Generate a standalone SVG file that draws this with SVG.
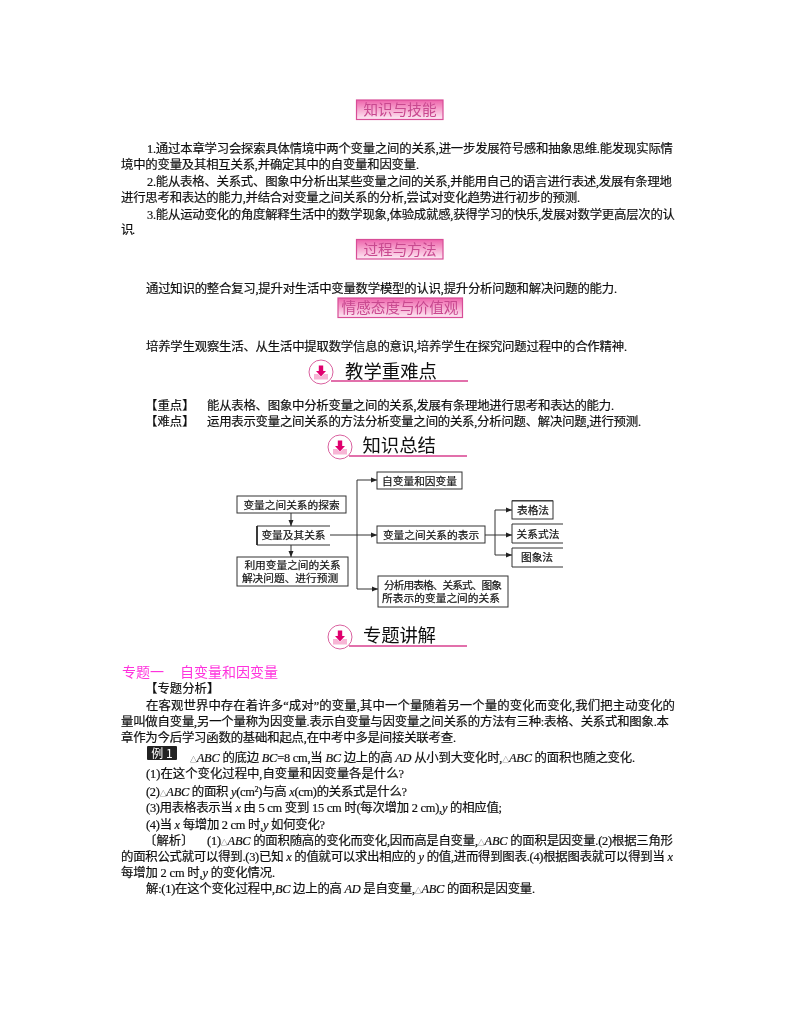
<svg xmlns="http://www.w3.org/2000/svg" width="800" height="1028" viewBox="0 0 800 1028">
<defs>
<filter id="soft" filterUnits="userSpaceOnUse" x="0" y="0" width="800" height="1028"><feGaussianBlur stdDeviation="0.35"/></filter>
<linearGradient id="pk" x1="0" y1="0" x2="0" y2="1"><stop offset="0" stop-color="#ee62ab"/><stop offset="0.5" stop-color="#f7a8d0"/><stop offset="1" stop-color="#fdeaf4"/></linearGradient>
<marker id="ah" viewBox="0 0 6 6" refX="6" refY="3" markerWidth="6" markerHeight="6" orient="auto" markerUnits="userSpaceOnUse"><path d="M0 0.5L6 3L0 5.5Z" fill="#222"/></marker>
<symbol id="ic" overflow="visible"><circle cx="0" cy="0" r="12" fill="#fff" stroke="#d9619f" stroke-width="1"/><path d="M-7 7.500L-7 2L-3 2L0 5L3 2L7 2L7 7.500Z" fill="#f7b5d5"/><path d="M-2.200 -6.500H2.200V-1H5L0 4.500L-5 -1H-2.200Z" fill="#e0006e"/></symbol>
</defs>
<style>
text{font-family:"Liberation Serif","Noto Sans CJK SC",serif;fill:#111;font-size:12.4px;stroke:#111;stroke-width:.2px}
.h{font-family:"Noto Sans CJK SC","Liberation Sans",sans-serif;font-size:18.4px;fill:#111;stroke:none}
.p{font-family:"Noto Sans CJK SC","Liberation Sans",sans-serif;font-size:14.6px;fill:#c8488f;stroke:none;text-anchor:middle}
.n{font-size:10.7px;fill:#111}
.b{fill:#fff;stroke:#333;stroke-width:1}
.c{fill:none;stroke:#333;stroke-width:1}
.a{marker-end:url(#ah)}
.pb{fill:url(#pk);stroke:#d84d97;stroke-width:1.200}
.u{stroke:#d8418f;stroke-width:1.300;fill:none}
.m{fill:#ff33dd;stroke:none;font-size:14px}
.i{font-style:italic}
.t{font-size:7px;stroke:none;fill:#444}
</style>
<g filter="url(#soft)">
<g id="badge-zhishi"><rect class="pb" x="356.500" y="100" width="86.500" height="19.500"/><text class="p" x="400" y="115">知识与技能</text></g>
<g id="badge-guocheng"><rect class="pb" x="356.500" y="239.500" width="86.500" height="19.500"/><text class="p" x="400" y="254.500">过程与方法</text></g>
<g id="badge-qinggan"><rect class="pb" x="338" y="298" width="124.500" height="19.500"/><text class="p" x="400" y="313">情感态度与价值观</text></g>
<g id="head-zhongnan"><use href="#ic" x="321" y="372"/><path class="u" d="M331 381H468"/><text class="h" x="345" y="378" textLength="92">教学重难点</text></g>
<g id="head-zongjie"><use href="#ic" x="340" y="447"/><path class="u" d="M349 456H467"/><text class="h" x="362.500" y="452" textLength="73.500">知识总结</text></g>
<g id="head-jiangjie"><use href="#ic" x="340" y="637"/><path class="u" d="M349 646H467"/><text class="h" x="363" y="642" textLength="73">专题讲解</text></g>
<g id="body-text">
<text x="147" y="152.500" textLength="526">1.通过本章学习会探索具体情境中两个变量之间的关系,进一步发展符号感和抽象思维.能发现实际情</text>
<text x="121" y="169" textLength="298">境中的变量及其相互关系,并确定其中的自变量和因变量.</text>
<text x="147" y="185.500" textLength="525">2.能从表格、关系式、图象中分析出某些变量之间的关系,并能用自己的语言进行表述,发展有条理地</text>
<text x="121" y="202" textLength="459">进行思考和表达的能力,并结合对变量之间关系的分析,尝试对变化趋势进行初步的预测.</text>
<text x="147" y="218.500" textLength="528">3.能从运动变化的角度解释生活中的数学现象,体验成就感,获得学习的快乐,发展对数学更高层次的认</text>
<text x="121" y="234" textLength="14">识.</text>
<text x="146" y="292.500" textLength="471">通过知识的整合复习,提升对生活中变量数学模型的认识,提升分析问题和解决问题的能力.</text>
<text x="146" y="350.500" textLength="481">培养学生观察生活、从生活中提取数学信息的意识,培养学生在探究问题过程中的合作精神.</text>
<text x="145" y="409.500">【重点】</text><text x="207" y="409.500" textLength="407">能从表格、图象中分析变量之间的关系,发展有条理地进行思考和表达的能力.</text>
<text x="145" y="425.500">【难点】</text><text x="207" y="425.500" textLength="434">运用表示变量之间关系的方法分析变量之间的关系,分析问题、解决问题,进行预测.</text>
<text class="m" x="122" y="676.500" textLength="42">专题一</text><text class="m" x="180" y="676.500" textLength="98">自变量和因变量</text>
<text x="145" y="693">【专题分析】</text>
<text x="146" y="709.500" textLength="529">在客观世界中存在着许多“成对”的变量,其中一个量随着另一个量的变化而变化,我们把主动变化的</text>
<text x="121" y="725.500" textLength="548">量叫做自变量,另一个量称为因变量.表示自变量与因变量之间关系的方法有三种:表格、关系式和图象.本</text>
<text x="121" y="741.500" textLength="335">章作为今后学习函数的基础和起点,在中考中多是间接关联考查.</text>
<g id="example-badge"><rect x="147" y="746" width="30" height="14" rx="1" fill="#222"/><text x="162" y="757.500" text-anchor="middle" style="fill:#fff;stroke:none;font-size:12px;font-family:'Noto Sans CJK SC',sans-serif">例 1</text></g>
<text x="190" y="761.500" textLength="445"><tspan class="t">△</tspan><tspan class="i">ABC</tspan> 的底边 <tspan class="i">BC</tspan>=8 cm,当 <tspan class="i">BC</tspan> 边上的高 <tspan class="i">AD</tspan> 从小到大变化时,<tspan class="t">△</tspan><tspan class="i">ABC</tspan> 的面积也随之变化.</text>
<text x="146" y="778" textLength="258">(1)在这个变化过程中,自变量和因变量各是什么?</text>
<text x="146" y="795.500" textLength="261">(2)<tspan class="t">△</tspan><tspan class="i">ABC</tspan> 的面积 <tspan class="i">y</tspan>(cm<tspan dy="-4" font-size="8">2</tspan><tspan dy="4">)与高 </tspan><tspan class="i">x</tspan>(cm)的关系式是什么?</text>
<text x="146" y="812" textLength="356">(3)用表格表示当 <tspan class="i">x</tspan> 由 5 cm 变到 15 cm 时(每次增加 2 cm),<tspan class="i">y</tspan> 的相应值;</text>
<text x="146" y="828.500" textLength="179">(4)当 <tspan class="i">x</tspan> 每增加 2 cm 时,<tspan class="i">y</tspan> 如何变化?</text>
<text x="144" y="844.500">〔解析〕</text><text x="207" y="844.500" textLength="466">(1)<tspan class="t">△</tspan><tspan class="i">ABC</tspan> 的面积随高的变化而变化,因而高是自变量,<tspan class="t">△</tspan><tspan class="i">ABC</tspan> 的面积是因变量.(2)根据三角形</text>
<text x="121" y="860.500" textLength="552">的面积公式就可以得到.(3)已知 <tspan class="i">x</tspan> 的值就可以求出相应的 <tspan class="i">y</tspan> 的值,进而得到图表.(4)根据图表就可以得到当 <tspan class="i">x</tspan></text>
<text x="121" y="876.500" textLength="154">每增加 2 cm 时,<tspan class="i">y</tspan> 的变化情况.</text>
<text x="146" y="893" textLength="389">解:(1)在这个变化过程中,<tspan class="i">BC</tspan> 边上的高 <tspan class="i">AD</tspan> 是自变量,<tspan class="t">△</tspan><tspan class="i">ABC</tspan> 的面积是因变量.</text>
</g>
<g id="connectors">
<path class="c a" d="M291 513V526"/>
<path class="c a" d="M291 545V557"/>
<path class="c a" d="M330 535H377"/>
<path class="c a" d="M357 480H377"/>
<path class="c a" d="M357 589H378"/>
<path class="c" d="M357 480V589"/>
<path class="c a" d="M485 535H512"/>
<path class="c a" d="M495 510H512"/>
<path class="c a" d="M495 555H512"/>
<path class="c" d="M495 510V555"/>
</g>
<g id="n-tansuo"><rect class="b" x="237" y="496" width="109" height="17"/><text class="n" x="291.500" y="508.500" text-anchor="middle">变量之间关系的探索</text></g>
<g id="n-bianliang"><path class="c" d="M330 526H257V545H330"/><path d="M257 526V545" stroke="#222" stroke-width="1.600"/><text class="n" x="293.500" y="539" text-anchor="middle">变量及其关系</text></g>
<g id="n-liyong"><rect class="b" x="237" y="557" width="111" height="29"/><text class="n" x="292.500" y="569" text-anchor="middle">利用变量之间的关系</text><text class="n" x="290" y="582" text-anchor="middle">解决问题、进行预测</text></g>
<g id="n-zibianliang"><rect class="b" x="377" y="472" width="85" height="17"/><text class="n" x="419.500" y="484.500" text-anchor="middle">自变量和因变量</text></g>
<g id="n-biaoshi"><rect class="b" x="377" y="526" width="108" height="17"/><text class="n" x="431" y="539" text-anchor="middle">变量之间关系的表示</text></g>
<g id="n-fenxi"><rect class="b" x="378" y="576" width="130" height="31"/><text class="n" x="443" y="588.500" text-anchor="middle" textLength="118">分析用表格、关系式、图象</text><text class="n" x="441" y="602" text-anchor="middle" textLength="118">所表示的变量之间的关系</text></g>
<g id="n-biaoge"><path d="M512 501H553" stroke="#222" stroke-width="1.600"/><rect class="b" x="512" y="501" width="41" height="18"/><text class="n" x="533" y="514" text-anchor="middle">表格法</text></g>
<g id="n-guanxi"><path class="c" d="M563 524H512V543H563"/><text class="n" x="538" y="538" text-anchor="middle">关系式法</text></g>
<g id="n-tuxiang"><path class="c" d="M563 548H512V567H563"/><text class="n" x="537" y="561" text-anchor="middle">图象法</text></g>
</g>
</svg>
